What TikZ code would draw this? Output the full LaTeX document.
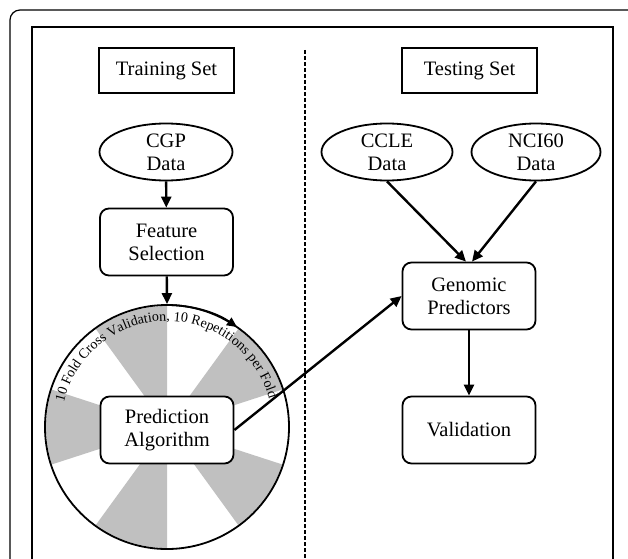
\documentclass[tikz,border=0pt]{standalone}
\usepackage{fontspec}
\setmainfont{Liberation Serif}
\usetikzlibrary{arrows.meta,decorations.text,shapes.geometric}
\definecolor{wedge}{RGB}{192,192,192}
\tikzset{
  x=1pt,y=1pt,
  txt/.style={font=\fontsize{20.5}{23}\selectfont, align=center},
  setbox/.style={txt, draw, line width=2.2pt, minimum width=135, minimum height=45, inner sep=0pt},
  rbox/.style={txt, draw, line width=1.8pt, rounded corners=9pt, minimum width=133, minimum height=67, inner sep=0pt},
  oval/.style={txt, draw, ellipse, line width=1.8pt, minimum width=133, minimum height=57, inner sep=0pt},
  arr/.style={line width=2.4pt, -{Triangle[length=11pt,width=10pt]}},
}
\begin{document}
\begin{tikzpicture}
\useasboundingbox (0,0) rectangle (628,558);
\clip (0,0) rectangle (628,558);
\fill[white] (0,0) rectangle (628,558);
% frames
\draw[line width=1.2pt, rounded corners=10pt] (10,548) rectangle (642,-14);
\draw[line width=2pt] (32,531) rectangle (613,-14);
\draw[line width=1.2pt, dash pattern=on 4pt off 2pt] (305,508) -- (305,-5);
% headers
\node[setbox] (train) at (166.5,487.5) {Training Set};
\node[setbox] (test) at (469.5,487.5) {Testing Set};
% left column
\node[oval] (cgp) at (166,406) {CGP\\Data};
\node[rbox] (fs) at (166.5,316) {Feature\\Selection};
% wedges
\coordinate (cc) at (167,131);
\foreach \a in {90,162,234,306,18}{
  \fill[wedge] (cc) -- ++(\a:121) arc (\a:\a+36:121) -- cycle;
}
\node[circle, draw, line width=1.8pt, minimum size=244, inner sep=0pt] (circ) at (cc) {};
\draw[line width=1.8pt, -{Triangle[length=10pt,width=9pt]}] (cc) ++(90:122) arc (90:55:122);
\path[decorate, decoration={text along path, text align=center,
   text format delimiters={|}{|},
   text={|\fontsize{14}{14}\selectfont|10 Fold Cross Validation, 10 Repetitions per Fold}}]
   (cc) ++(170:106) arc (170:12:106);
\node[rbox, fill=white] (pa) at (167,128) {Prediction\\Algorithm};
% right column
\node[oval, minimum width=131] (ccle) at (387,406) {CCLE\\Data};
\node[oval, minimum width=129] (nci) at (536,406) {NCI60\\Data};
\node[rbox] (gp) at (469,262) {Genomic\\Predictors};
\node[rbox] (val) at (469,128) {Validation};
% arrows
\draw[arr] (cgp) -- (fs);
\draw[arr] (fs) -- (circ.north);
\draw[arr] (ccle.south) -- ([xshift=-3pt]gp.north);
\draw[arr] (nci.south) -- ([xshift=3pt]gp.north);
\draw[arr] (gp) -- (val);
\draw[arr] (pa.east) -- (gp.west);
\end{tikzpicture}
\end{document}
